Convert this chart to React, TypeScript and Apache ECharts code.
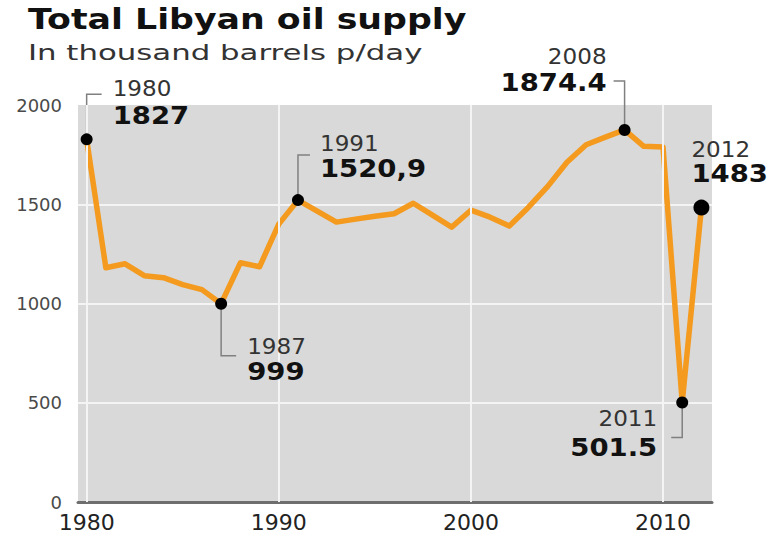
import React, { useEffect, useRef } from "react";
import * as echarts from "echarts";

const titleText = "Total Libyan oil supply";
const subtitleText = "In thousand barrels p/day";

const years = [
  1980, 1981, 1982, 1983, 1984, 1985, 1986, 1987, 1988, 1989, 1990, 1991, 1992,
  1993, 1994, 1995, 1996, 1997, 1998, 1999, 2000, 2001, 2002, 2003, 2004, 2005,
  2006, 2007, 2008, 2009, 2010, 2011, 2012,
];
const supply = [
  1827, 1180, 1200, 1140, 1130, 1095, 1070, 999, 1205, 1185, 1400, 1520.9, 1465,
  1410, 1425, 1440, 1452, 1505, 1445, 1385, 1470, 1435, 1390, 1485, 1590, 1712,
  1800, 1838, 1874.4, 1792, 1789, 501.5, 1483,
];

const highlightYears = [1980, 1987, 1991, 2008, 2011, 2012];
const highlightLabels = ["1827", "999", "1520,9", "1874.4", "501.5", "1483"];

const xTickValues = [1980, 1990, 2000, 2010];
const yTickInterval = 500;

// annotation layout (pixel offsets from the marked point)
type Layout = {
  lead: number[][] | null;
  tx: number;
  yearDy: number;
  valDy: number;
  align: "left" | "right";
};
const annotationLayout: Layout[] = [
  { lead: [[0, -45], [15, -45]], tx: 26, yearDy: -50, valDy: -24, align: "left" },
  { lead: [[0, 52], [15, 52]], tx: 26, yearDy: 43, valDy: 68, align: "left" },
  { lead: [[0, -45], [12, -45]], tx: 22, yearDy: -56, valDy: -32, align: "left" },
  { lead: [[0, -49], [-11, -49]], tx: -18, yearDy: -73, valDy: -47, align: "right" },
  { lead: [[0, 35], [-11, 35]], tx: -25, yearDy: 16, valDy: 45, align: "right" },
  { lead: null, tx: -10, yearDy: -58, valDy: -34, align: "left" },
];

const FONT = "'DejaVu Sans', Verdana, sans-serif";

export default function App() {
  const ref = useRef<HTMLDivElement>(null);

  useEffect(() => {
    if (!ref.current) return;
    const chart = echarts.init(ref.current, null, { renderer: "svg" });
    const lineData = years.map((y, i) => [y, supply[i]]);
    const dotData = highlightYears.map((y) => ({
      value: [y, supply[years.indexOf(y)]],
      symbolSize: y === 2012 ? 16 : 12,
    }));

    chart.setOption({
      animation: false,
      backgroundColor: "#ffffff",
      grid: {
        left: 78,
        right: 59,
        top: 105,
        bottom: 38,
        show: true,
        backgroundColor: "#d9d9d9",
        borderWidth: 0,
      },
      xAxis: {
        type: "value",
        min: 1979.55,
        max: 2012.55,
        axisLine: { show: true, onZero: false, lineStyle: { color: "#6e6e6e", width: 3 } },
        axisTick: { show: false },
        splitLine: { show: false },
        axisLabel: {
          customValues: xTickValues,
          formatter: (v: number) => String(v),
          fontSize: 22,
          fontFamily: FONT,
          color: "#222",
          margin: 9,
        },
      },
      yAxis: {
        type: "value",
        min: 0,
        max: 2000,
        interval: yTickInterval,
        axisLine: { show: false },
        axisTick: { show: false },
        axisLabel: {
          formatter: (v: number) => String(v),
          fontSize: 18,
          fontFamily: FONT,
          color: "#4a4a4a",
          margin: 16,
        },
        splitLine: {
          show: true,
          showMinLine: false,
          showMaxLine: false,
          lineStyle: { color: "#f4f4f4", width: 2 },
        },
      },
      series: [
        {
          type: "line",
          data: [],
          z: 1,
          silent: true,
          markLine: {
            silent: true,
            symbol: ["none", "none"],
            label: { show: false },
            lineStyle: { color: "#f4f4f4", width: 2, type: "solid" },
            data: xTickValues.map((v) => ({ xAxis: v })),
          },
        },
        {
          type: "line",
          data: lineData,
          showSymbol: false,
          z: 3,
          lineStyle: { color: "#f39a1f", width: 5.5, join: "round" },
        },
        {
          type: "scatter",
          data: dotData,
          z: 5,
          itemStyle: { color: "#000", opacity: 1 },
        },
      ],
    });

    const graphics: any[] = [
      {
        type: "text",
        x: 28,
        y: 19,
        z: 10,
        scaleX: 1.22,
        style: {
          text: titleText,
          x: 0,
          y: 0,
          fill: "#111",
          fontSize: 28.5,
          fontWeight: "bold",
          fontFamily: FONT,
          align: "left",
          textAlign: "left",
          verticalAlign: "middle",
          textVerticalAlign: "middle",
        },
      },
      {
        type: "text",
        x: 28,
        y: 52,
        z: 10,
        scaleX: 1.4,
        style: {
          text: subtitleText,
          x: 0,
          y: 0,
          fill: "#333",
          fontSize: 22,
          fontFamily: FONT,
          align: "left",
          textAlign: "left",
          verticalAlign: "middle",
          textVerticalAlign: "middle",
        },
      },
    ];

    highlightYears.forEach((yr, i) => {
      const val = supply[years.indexOf(yr)];
      const p = chart.convertToPixel({ gridIndex: 0 }, [yr, val]) as number[];
      const L = annotationLayout[i];
      if (L.lead) {
        graphics.push({
          type: "polyline",
          z: 4,
          shape: { points: [[p[0], p[1]], ...L.lead.map((d) => [p[0] + d[0], p[1] + d[1]])] },
          style: { stroke: "#808080", lineWidth: 1.5, fill: null },
        });
      }
      graphics.push({
        type: "text",
        x: p[0] + L.tx,
        y: p[1] + L.yearDy,
        z: 10,
        scaleX: 1.1,
        style: {
          text: String(yr),
          x: 0,
          y: 0,
          fill: "#333",
          fontSize: 21,
          fontFamily: FONT,
          align: L.align,
          textAlign: L.align,
          verticalAlign: "middle",
          textVerticalAlign: "middle",
        },
      });
      graphics.push({
        type: "text",
        x: p[0] + L.tx,
        y: p[1] + L.valDy,
        z: 10,
        scaleX: 1.1,
        style: {
          text: highlightLabels[i],
          x: 0,
          y: 0,
          fill: "#111",
          fontSize: 25,
          fontWeight: "bold",
          fontFamily: FONT,
          align: L.align,
          textAlign: L.align,
          verticalAlign: "middle",
          textVerticalAlign: "middle",
        },
      });
    });

    chart.setOption({ graphic: graphics });

    return () => chart.dispose();
  }, []);

  return (
    <div
      ref={ref}
      style={{ position: "fixed", left: 0, top: 0, width: 771, height: 540 }}
    />
  );
}
